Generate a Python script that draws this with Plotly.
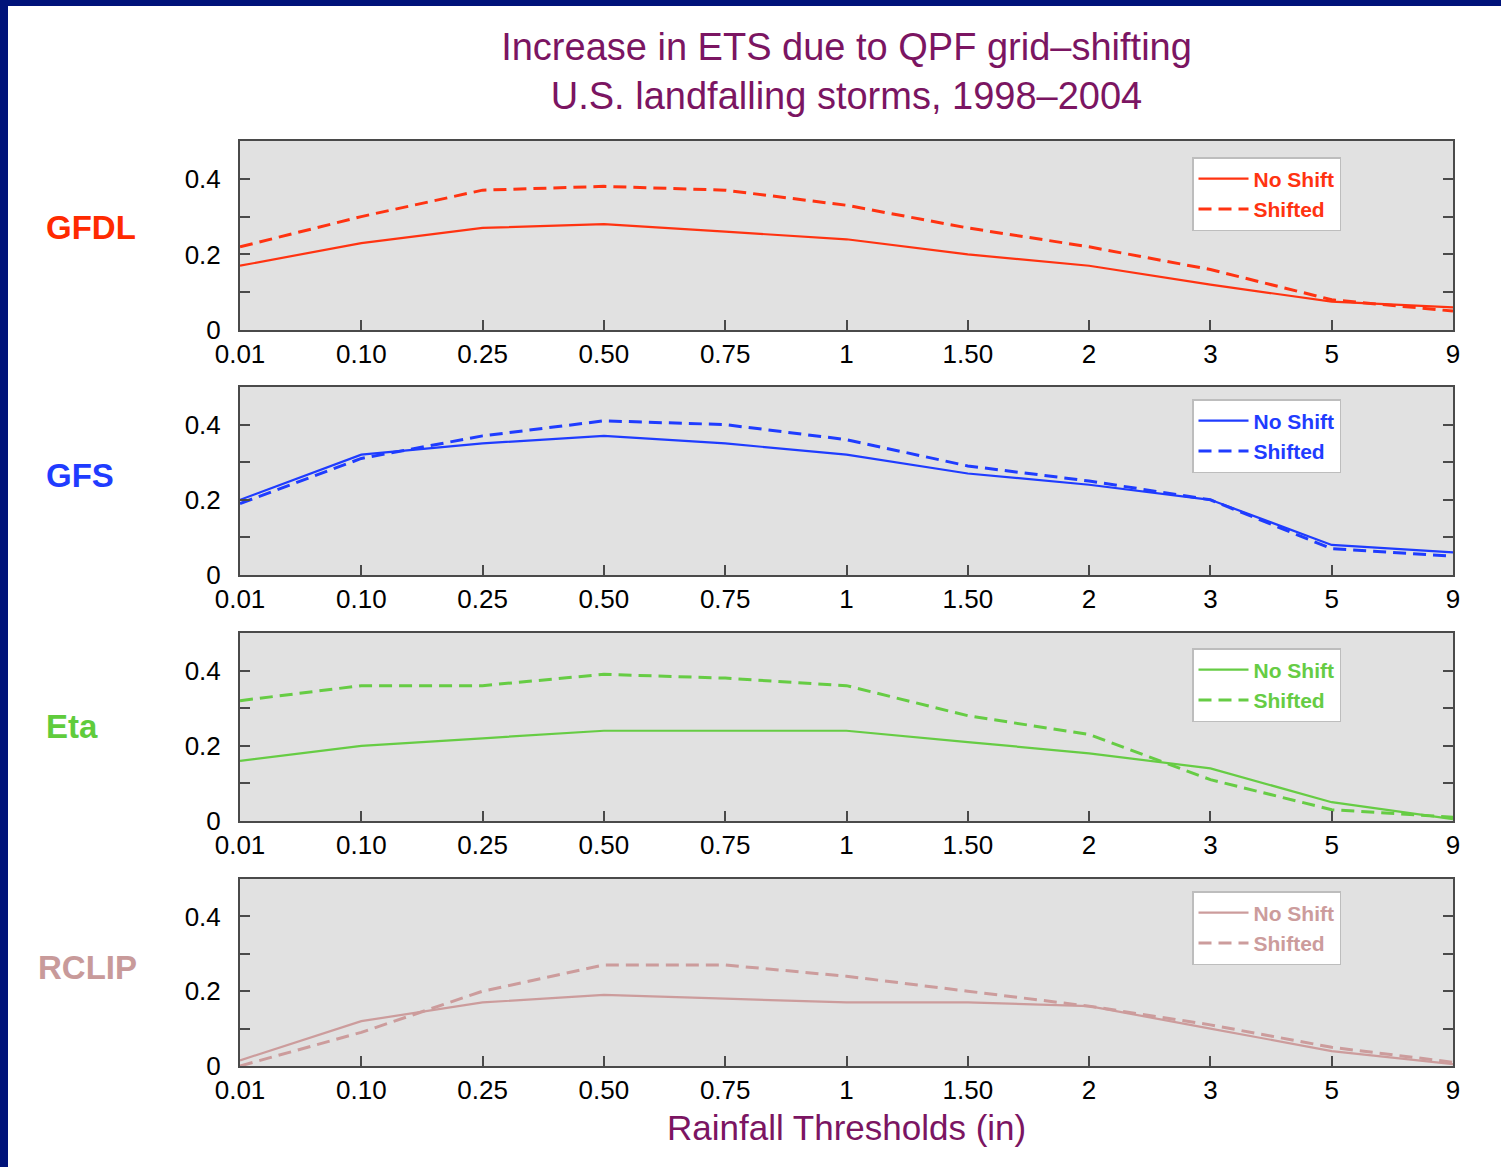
import plotly.graph_objects as go

# ---------------- data ----------------
thresholds = ["0.01", "0.10", "0.25", "0.50", "0.75", "1", "1.50", "2", "3", "5", "9"]
models = ["GFDL", "GFS", "Eta", "RCLIP"]
series_names = ["No Shift", "Shifted"]

gfdl_no_shift = [0.17, 0.23, 0.27, 0.28, 0.26, 0.24, 0.20, 0.17, 0.12, 0.075, 0.06]
gfdl_shifted = [0.22, 0.30, 0.37, 0.38, 0.37, 0.33, 0.27, 0.22, 0.16, 0.08, 0.05]

gfs_no_shift = [0.20, 0.32, 0.35, 0.37, 0.35, 0.32, 0.27, 0.24, 0.20, 0.08, 0.06]
gfs_shifted = [0.19, 0.31, 0.37, 0.41, 0.40, 0.36, 0.29, 0.25, 0.20, 0.07, 0.05]

eta_no_shift = [0.16, 0.20, 0.22, 0.24, 0.24, 0.24, 0.21, 0.18, 0.14, 0.05, 0.005]
eta_shifted = [0.32, 0.36, 0.36, 0.39, 0.38, 0.36, 0.28, 0.23, 0.11, 0.03, 0.01]

rclip_no_shift = [0.015, 0.12, 0.17, 0.19, 0.18, 0.17, 0.17, 0.16, 0.10, 0.04, 0.005]
rclip_shifted = [0.0, 0.09, 0.20, 0.27, 0.27, 0.24, 0.20, 0.16, 0.11, 0.05, 0.01]

y_tick_vals = [0, 0.1, 0.2, 0.3, 0.4]
y_tick_text = ["0", "", "0.2", "", "0.4"]

title_text = "Increase in ETS due to QPF grid\u2013shifting<br>U.S. landfalling storms, 1998\u20132004"
x_title = "Rainfall Thresholds (in)"

# ---------------- styling ----------------
model_data = [
    (gfdl_no_shift, gfdl_shifted),
    (gfs_no_shift, gfs_shifted),
    (eta_no_shift, eta_shifted),
    (rclip_no_shift, rclip_shifted),
]
colors = ["#ff3311", "#1f3cff", "#66cc44", "#cc9c9c"]
label_colors = ["#ff2a00", "#1f3cff", "#5fcc3c", "#c89a9a"]
title_color = "#7b1562"
navy = "#00137a"
FONT = "Liberation Sans, Arial, Helvetica, sans-serif"

W, H = 1501, 1167
PL, PR = 240, 1453          # plot area x (px)
PT, PB = 141, 1066          # plot area y (px)
panel_px = [(141, 330), (387, 575), (633, 821), (879, 1066)]
legend_top_px = [157, 399, 648, 891]
label_pos_px = [(44, 227), (44, 475), (44, 726), (36, 967)]


def fy(py):
    return (PB - py) / (PB - PT)


def fx(px):
    return (px - PL) / (PR - PL)


fig = go.Figure()

layout = dict(
    width=W, height=H,
    margin=dict(l=PL, r=W - PR, t=PT, b=H - PB, pad=0),
    paper_bgcolor="white",
    plot_bgcolor="#e1e1e1",
    font=dict(family=FONT, color="black"),
    title=dict(text=title_text, x=0.5, xref="paper", xanchor="center",
               y=1 - 60 / H, yref="container", yanchor="middle",
               font=dict(family=FONT, size=38, color=title_color)),
    annotations=[],
    shapes=[],
)

for i, (model, (ns, sh)) in enumerate(zip(models, model_data)):
    k = "" if i == 0 else str(i + 1)
    leg = "legend" + k
    fig.add_trace(go.Scatter(
        x=thresholds, y=ns, mode="lines", name=series_names[0],
        line=dict(color=colors[i], width=2.2),
        xaxis="x" + k, yaxis="y" + k, legend=leg))
    fig.add_trace(go.Scatter(
        x=thresholds, y=sh, mode="lines", name=series_names[1],
        line=dict(color=colors[i], width=3, dash="13px,7px"),
        xaxis="x" + k, yaxis="y" + k, legend=leg))

    top, bot = panel_px[i]
    layout["xaxis" + k] = dict(
        domain=[0, 1], anchor="y" + k, type="category", range=[0, 10],
        showline=True, linecolor="#4a4a4a", linewidth=2, mirror=True,
        ticks="inside", ticklen=10, tickwidth=1.5, tickcolor="#4a4a4a",
        showgrid=False, zeroline=False, ticklabelstandoff=0,
        tickfont=dict(family=FONT, size=26, color="black"),
    )
    layout["yaxis" + k] = dict(
        domain=[fy(bot), fy(top)], anchor="x" + k, range=[0, 0.5],
        tickmode="array", tickvals=y_tick_vals, ticktext=y_tick_text,
        showline=True, linecolor="#4a4a4a", linewidth=2, mirror="ticks",
        ticks="inside", ticklen=10, tickwidth=1.5, tickcolor="#4a4a4a",
        showgrid=False, zeroline=False, ticklabelstandoff=12,
        tickfont=dict(family=FONT, size=26, color="black"),
    )
    layout[leg] = dict(
        x=fx(1341), xanchor="right", xref="paper",
        y=fy(legend_top_px[i]), yanchor="top", yref="paper",
        bgcolor="white", bordercolor="#bdbdbd", borderwidth=1.5,
        font=dict(family=FONT, size=21, color=colors[i], weight="bold"),
        tracegroupgap=0, itemwidth=50,
    )
    lx, ly = label_pos_px[i]
    layout["annotations"].append(dict(
        text=model, x=fx(lx), y=fy(ly), xref="paper", yref="paper",
        xanchor="left", yanchor="middle", showarrow=False,
        font=dict(family=FONT, size=33, color=label_colors[i], weight="bold")))

# x axis title under the bottom panel
layout["annotations"].append(dict(
    text=x_title, x=0.5, y=fy(1127), xref="paper", yref="paper",
    xanchor="center", yanchor="middle", showarrow=False,
    font=dict(family=FONT, size=35, color=title_color)))

# navy frame (left and top edges)
layout["shapes"].append(dict(type="rect", xref="paper", yref="paper",
                             x0=fx(0), x1=fx(8), y0=fy(H), y1=fy(0),
                             fillcolor=navy, line=dict(width=0), layer="above"))
layout["shapes"].append(dict(type="rect", xref="paper", yref="paper",
                             x0=fx(0), x1=fx(W), y0=fy(6), y1=fy(0),
                             fillcolor=navy, line=dict(width=0), layer="above"))

fig.update_layout(**layout)
fig.write_html("out.html", config={"displayModeBar": False},
               post_script="document.body.style.margin='0';document.body.style.padding='0';")
